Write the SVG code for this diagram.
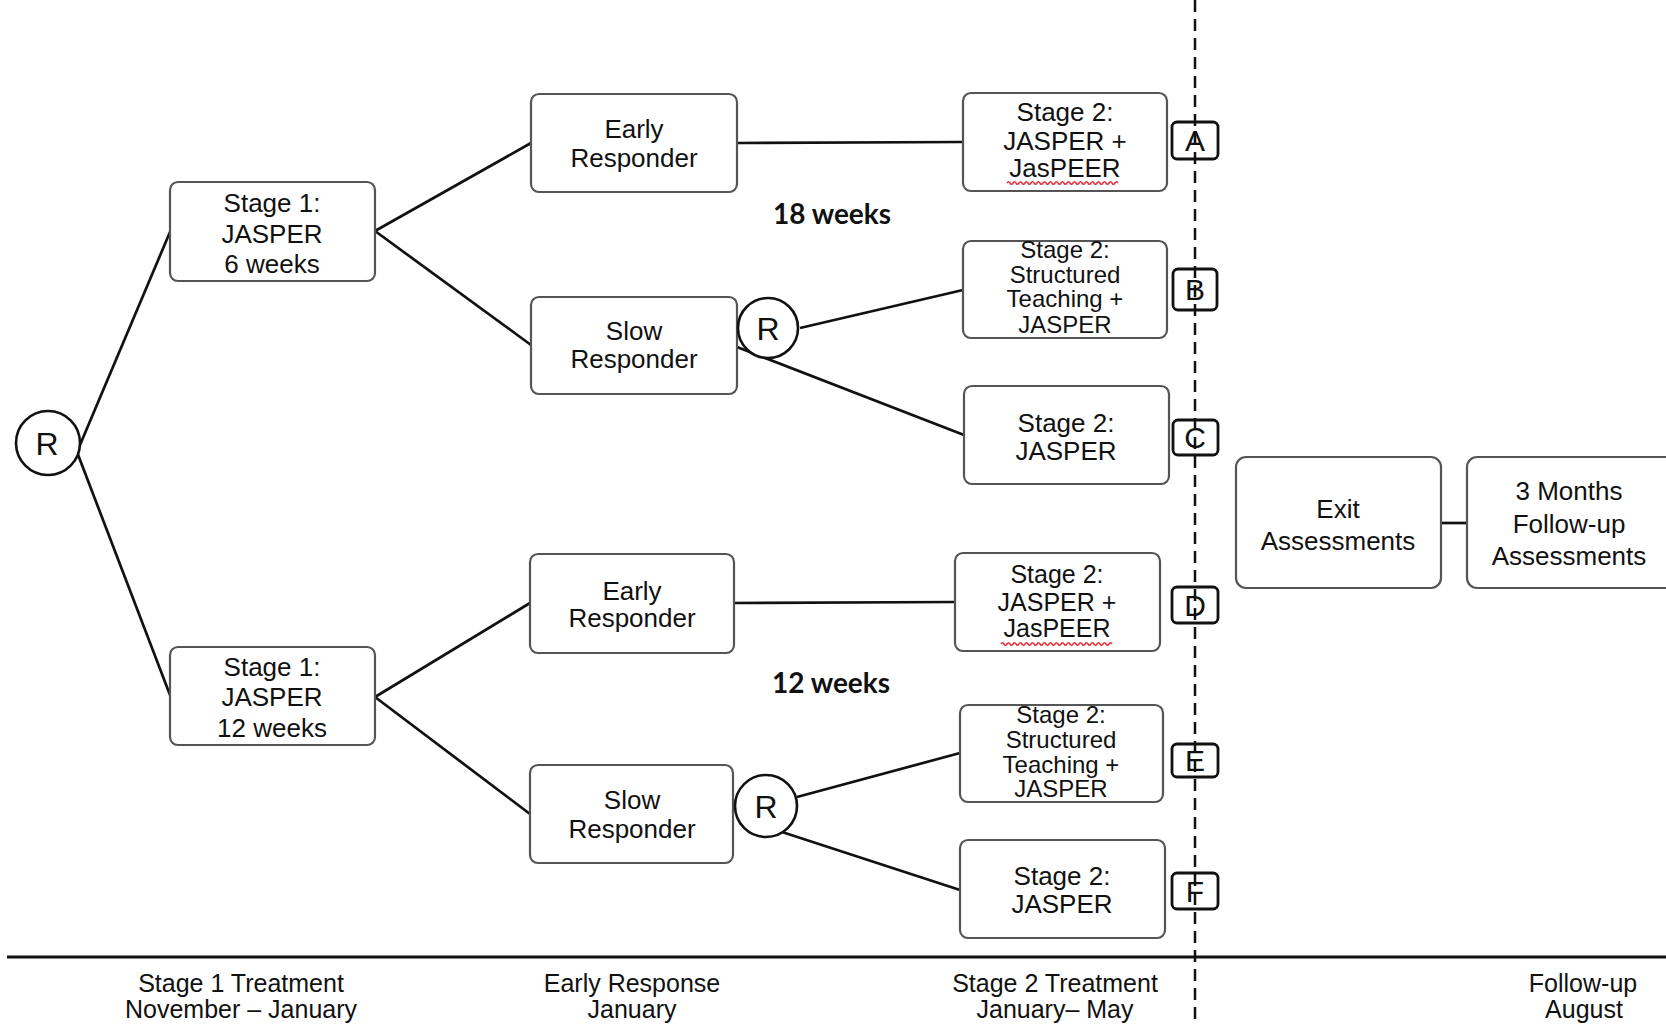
<svg xmlns="http://www.w3.org/2000/svg" width="1666" height="1026" viewBox="0 0 1666 1026">
<style>
.box{fill:#fff;stroke:#555;stroke-width:2.2}
.lbl{fill:none;stroke:#111;stroke-width:2.8}
.circ{fill:#fff;stroke:#111;stroke-width:2.6}
.t{font-family:"Liberation Sans",Arial,sans-serif;font-size:26px;fill:#111;text-anchor:middle}
.s{font-size:24px}
.d{font-size:25px}
.L{font-family:"Liberation Sans",Arial,sans-serif;font-size:30px;fill:#111;text-anchor:middle}
.R{font-family:"Liberation Sans",Arial,sans-serif;font-size:32px;fill:#111;text-anchor:middle}
.w{font-family:Lato,"Liberation Sans",sans-serif;font-weight:700;font-size:28px;fill:#111;text-anchor:middle}
.ax{font-family:"Liberation Sans",Arial,sans-serif;font-size:25px;fill:#111;text-anchor:middle}
.wave{fill:none;stroke:#e0303a;stroke-width:1.5}
</style>
<rect width="1666" height="1026" fill="#fff"/>
<g id="connectors" stroke="#111" stroke-width="2.7" fill="none">
<line x1="77" y1="452" x2="170" y2="232"/>
<line x1="77" y1="452" x2="170" y2="695"/>
<line x1="375" y1="231" x2="531" y2="143"/>
<line x1="375" y1="231" x2="531" y2="345"/>
<line x1="737" y1="143" x2="963" y2="142"/>
<line x1="800" y1="328" x2="963" y2="290"/>
<line x1="737" y1="347" x2="964" y2="435"/>
<line x1="375" y1="697" x2="530" y2="603"/>
<line x1="375" y1="697" x2="530" y2="814"/>
<line x1="734" y1="603" x2="955" y2="602"/>
<line x1="797" y1="797" x2="960" y2="753"/>
<line x1="782" y1="832" x2="960" y2="890"/>
<line x1="1441" y1="523" x2="1467" y2="523"/>
<line x1="1195" y1="0" x2="1195" y2="1026" stroke-dasharray="12 7" stroke-width="2.5"/>
<line x1="7" y1="957" x2="1666" y2="957" stroke-width="3"/>
</g>
<g id="r-main"><circle class="circ" cx="48" cy="443" r="32"/><text class="R" x="47" y="455">R</text></g>
<g id="stage1-top"><rect class="box" x="170" y="182" width="205" height="99" rx="8"/>
<text class="t" x="272" y="212">Stage 1:</text><text class="t" x="272" y="243">JASPER</text><text class="t" x="272" y="273">6 weeks</text></g>
<g id="stage1-bottom"><rect class="box" x="170" y="647" width="205" height="98" rx="8"/>
<text class="t" x="272" y="676">Stage 1:</text><text class="t" x="272" y="706">JASPER</text><text class="t" x="272" y="737">12 weeks</text></g>
<g id="early-top"><rect class="box" x="531" y="94" width="206" height="98" rx="8"/>
<text class="t" x="634" y="138">Early</text><text class="t" x="634" y="167">Responder</text></g>
<g id="slow-top"><rect class="box" x="531" y="297" width="206" height="97" rx="8"/>
<text class="t" x="634" y="340">Slow</text><text class="t" x="634" y="368">Responder</text></g>
<g id="r-top"><circle class="circ" cx="768" cy="328" r="30"/><text class="R" x="768" y="340">R</text></g>
<g id="early-bottom"><rect class="box" x="530" y="554" width="204" height="99" rx="8"/>
<text class="t" x="632" y="600">Early</text><text class="t" x="632" y="627">Responder</text></g>
<g id="slow-bottom"><rect class="box" x="530" y="765" width="203" height="98" rx="8"/>
<text class="t" x="632" y="809">Slow</text><text class="t" x="632" y="838">Responder</text></g>
<g id="r-bottom"><circle class="circ" cx="766" cy="806" r="31"/><text class="R" x="766" y="818">R</text></g>
<g id="label-18"><text class="w" x="832" y="224">18 weeks</text></g>
<g id="label-12"><text class="w" x="831" y="693">12 weeks</text></g>
<g id="stage2-a"><rect class="box" x="963" y="93" width="204" height="98" rx="8"/>
<text class="t" x="1065" y="121">Stage 2:</text><text class="t" x="1065" y="150">JASPER +</text><text class="t" x="1065" y="177">JasPEER</text>
<path class="wave" d="M1007 183 q1.5 -2.5 3 0 t3 0 t3 0 t3 0 t3 0 t3 0 t3 0 t3 0 t3 0 t3 0 t3 0 t3 0 t3 0 t3 0 t3 0 t3 0 t3 0 t3 0 t3 0 t3 0 t3 0 t3 0 t3 0 t3 0 t3 0 t3 0 t3 0 t3 0 t3 0 t3 0 t3 0 t3 0 t3 0 t3 0 t3 0 t3 0 t3 0"/></g>
<g id="stage2-b"><rect class="box" x="963" y="241" width="204" height="97" rx="8"/>
<text class="t s" x="1065" y="258">Stage 2:</text><text class="t s" x="1065" y="283">Structured</text><text class="t s" x="1065" y="307">Teaching +</text><text class="t s" x="1065" y="333">JASPER</text></g>
<g id="stage2-c"><rect class="box" x="964" y="386" width="205" height="98" rx="8"/>
<text class="t" x="1066" y="432">Stage 2:</text><text class="t" x="1066" y="460">JASPER</text></g>
<g id="stage2-d"><rect class="box" x="955" y="553" width="205" height="98" rx="8"/>
<text class="t d" x="1057" y="583">Stage 2:</text><text class="t d" x="1057" y="611">JASPER +</text><text class="t d" x="1057" y="637">JasPEER</text>
<path class="wave" d="M1001 644 q1.5 -2.5 3 0 t3 0 t3 0 t3 0 t3 0 t3 0 t3 0 t3 0 t3 0 t3 0 t3 0 t3 0 t3 0 t3 0 t3 0 t3 0 t3 0 t3 0 t3 0 t3 0 t3 0 t3 0 t3 0 t3 0 t3 0 t3 0 t3 0 t3 0 t3 0 t3 0 t3 0 t3 0 t3 0 t3 0 t3 0 t3 0 t3 0"/></g>
<g id="stage2-e"><rect class="box" x="960" y="705" width="203" height="97" rx="8"/>
<text class="t s" x="1061" y="723">Stage 2:</text><text class="t s" x="1061" y="748">Structured</text><text class="t s" x="1061" y="773">Teaching +</text><text class="t s" x="1061" y="797">JASPER</text></g>
<g id="stage2-f"><rect class="box" x="960" y="840" width="205" height="98" rx="8"/>
<text class="t" x="1062" y="885">Stage 2:</text><text class="t" x="1062" y="913">JASPER</text></g>
<g id="tag-a"><rect class="lbl" x="1172" y="122" width="46" height="37" rx="5"/><text class="L" x="1195" y="151">A</text></g>
<g id="tag-b"><rect class="lbl" x="1173" y="269" width="44" height="41" rx="5"/><text class="L" x="1195" y="300">B</text></g>
<g id="tag-c"><rect class="lbl" x="1173" y="420" width="45" height="35" rx="5"/><text class="L" x="1195" y="448">C</text></g>
<g id="tag-d"><rect class="lbl" x="1172" y="587" width="46" height="36" rx="5"/><text class="L" x="1195" y="616">D</text></g>
<g id="tag-e"><rect class="lbl" x="1172" y="744" width="46" height="33" rx="5"/><text class="L" x="1195" y="771">E</text></g>
<g id="tag-f"><rect class="lbl" x="1172" y="873" width="46" height="36" rx="5"/><text class="L" x="1195" y="902">F</text></g>
<g id="exit"><rect class="box" x="1236" y="457" width="205" height="131" rx="10"/>
<text class="t" x="1338" y="518">Exit</text><text class="t" x="1338" y="550">Assessments</text></g>
<g id="followup"><rect class="box" x="1467" y="457" width="210" height="131" rx="10"/>
<text class="t" x="1569" y="500">3 Months</text><text class="t" x="1569" y="533">Follow-up</text><text class="t" x="1569" y="565">Assessments</text></g>
<g id="axis-labels">
<text class="ax" x="241" y="992">Stage 1 Treatment</text><text class="ax" x="241" y="1018">November – January</text>
<text class="ax" x="632" y="992">Early Response</text><text class="ax" x="632" y="1018">January</text>
<text class="ax" x="1055" y="992">Stage 2 Treatment</text><text class="ax" x="1055" y="1018">January– May</text>
<text class="ax" x="1583" y="992">Follow-up</text><text class="ax" x="1584" y="1018">August</text>
</g>
</svg>
